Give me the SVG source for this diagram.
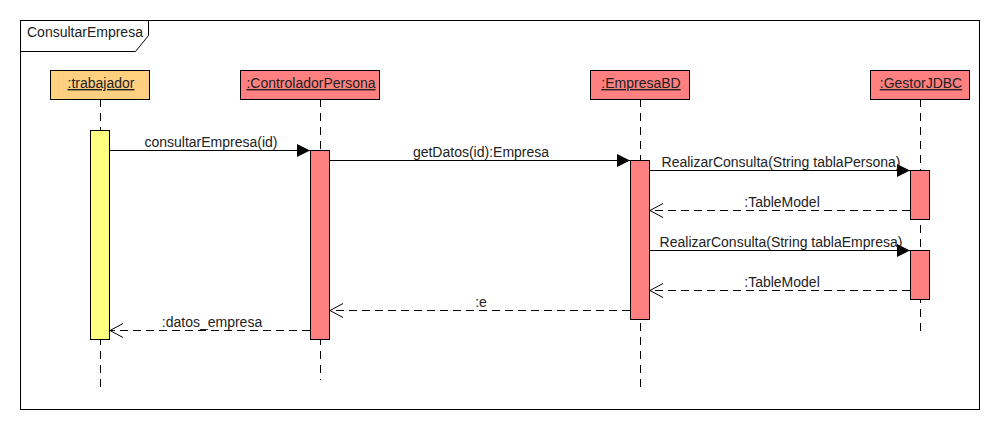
<svg xmlns="http://www.w3.org/2000/svg" width="1000" height="430" viewBox="0 0 1000 430">
<style>
text{font-family:"Liberation Sans",Arial,sans-serif;font-size:14px;fill:#222}
.hdr{stroke:#000;stroke-width:1}
.life{stroke:#000;stroke-width:1;stroke-dasharray:8,6;fill:none}
.act{stroke:#000;stroke-width:1}
.msg{stroke:#000;stroke-width:1;fill:none}
.ret{stroke:#000;stroke-width:1;fill:none;stroke-dasharray:8,5}
.u{text-decoration:underline}
.mid{text-anchor:middle}
</style>
<defs>
<marker id="filled" markerWidth="14" markerHeight="14" refX="13" refY="6.5" orient="auto" markerUnits="userSpaceOnUse">
<path d="M0,0 L13,6.5 L0,13 Z" fill="#000"/>
</marker>
<marker id="open" markerWidth="14" markerHeight="16" refX="13" refY="7" orient="auto" markerUnits="userSpaceOnUse">
<path d="M0,0 L13,7 L0,14" fill="none" stroke="#000" stroke-width="1"/>
</marker>
</defs>
<rect width="1000" height="430" fill="#fff"/>
<g id="frame">
<rect x="20.5" y="20.5" width="959" height="389" fill="none" stroke="#000"/>
<path d="M20.5,51.5 H135.5 L148.5,35.5 V20.5" fill="none" stroke="#000"/>
<text x="27" y="37">ConsultarEmpresa</text>
</g>
<g id="lifelines">
<line class="life" x1="100.5" y1="99" x2="100.5" y2="390"/>
<line class="life" x1="320.5" y1="99" x2="320.5" y2="380"/>
<line class="life" x1="640.5" y1="99" x2="640.5" y2="390"/>
<line class="life" x1="920.5" y1="99" x2="920.5" y2="331"/>
</g>
<g id="trabajador">
<rect class="hdr" x="50.5" y="70.5" width="99" height="29" fill="#FFD080"/>
<text class="u mid" x="101" y="88">:trabajador</text>
<rect class="act" x="90.5" y="130.5" width="19" height="209" fill="#FFFF80"/>
</g>
<g id="controladorPersona">
<rect class="hdr" x="240.5" y="70.5" width="139" height="29" fill="#FF8080"/>
<text class="u mid" x="311" y="88">:ControladorPersona</text>
<rect class="act" x="310.5" y="150.5" width="19" height="189" fill="#FF8080"/>
</g>
<g id="empresaBD">
<rect class="hdr" x="590.5" y="70.5" width="99" height="29" fill="#FF8080"/>
<text class="u mid" x="641" y="88">:EmpresaBD</text>
<rect class="act" x="630.5" y="160.5" width="19" height="159" fill="#FF8080"/>
</g>
<g id="gestorJDBC">
<rect class="hdr" x="870.5" y="70.5" width="99" height="29" fill="#FF8080"/>
<text class="u mid" x="921" y="88">:GestorJDBC</text>
<rect class="act" x="910.5" y="170.5" width="19" height="49" fill="#FF8080"/>
<rect class="act" x="910.5" y="250.5" width="19" height="49" fill="#FF8080"/>
</g>
<g id="connectors">
<line class="msg" x1="110" y1="150.5" x2="310" y2="150.5" marker-end="url(#filled)"/>
<text class="mid" x="211" y="147">consultarEmpresa(id)</text>
<line class="msg" x1="330" y1="160.5" x2="630" y2="160.5" marker-end="url(#filled)"/>
<text class="mid" x="481" y="157">getDatos(id):Empresa</text>
<line class="msg" x1="650" y1="170.5" x2="910" y2="170.5" marker-end="url(#filled)"/>
<text class="mid" x="781" y="167">RealizarConsulta(String tablaPersona)</text>
<line class="ret" x1="910" y1="210.5" x2="650" y2="210.5" marker-end="url(#open)"/>
<text class="mid" x="782" y="207">:TableModel</text>
<line class="msg" x1="650" y1="250.5" x2="910" y2="250.5" marker-end="url(#filled)"/>
<text class="mid" x="781" y="247">RealizarConsulta(String tablaEmpresa)</text>
<line class="ret" x1="910" y1="290.5" x2="650" y2="290.5" marker-end="url(#open)"/>
<text class="mid" x="782" y="287">:TableModel</text>
<line class="ret" x1="630" y1="310.5" x2="330" y2="310.5" marker-end="url(#open)"/>
<text class="mid" x="481" y="307">:e</text>
<line class="ret" x1="310" y1="330.5" x2="110" y2="330.5" marker-end="url(#open)"/>
<text class="mid" x="212" y="327">:datos_empresa</text>
</g>
</svg>
